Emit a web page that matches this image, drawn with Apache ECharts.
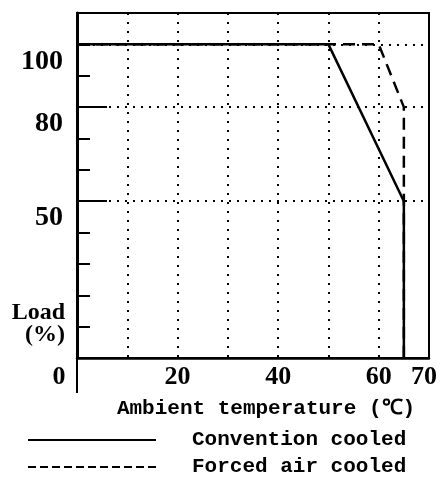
<!DOCTYPE html>
<html>
<head>
<meta charset="utf-8">
<script src="https://cdn.jsdelivr.net/npm/echarts@6/dist/echarts.min.js"></script>
<style>
html,body{margin:0;padding:0;background:#fff;}
#c{width:445px;height:485px;}
</style>
</head>
<body>
<div id="c"></div>
<script>
// ---- data ----
var seriesNames = ['Convention cooled', 'Forced air cooled'];
var conventionCooled = [[0, 100], [50, 100], [65, 50], [65, 0]];
var forcedAirCooled = [[0, 100], [60, 100], [65, 80], [65, 50], [65, 0]];
var xTickLabels = [0, 20, 40, 60, 70];
var yTickLabels = [100, 80, 50];
var yGuideLines = [100, 80, 50];
var yLongTicks = [80, 50];
var xAxisTitle = 'Ambient temperature (\u2103)';
var yAxisTitle = 'Load\n(%)';

var serifBold = {fontFamily: 'Liberation Serif', fontWeight: 'bold', color: '#000'};
var monoBold = {fontFamily: 'Liberation Mono', fontWeight: 'bold', color: '#000'};

// legend icons (drawn as paths so the dash pattern matches the key)
var solidIcon = 'path://M0,0H128V2H0Z';
var dashParts = [];
for (var i = 0; i < 11; i++) { var s = i * 12; dashParts.push('M' + s + ',0H' + (s + 8) + 'V2H' + s + 'Z'); }
var dashIcon = 'path://' + dashParts.join('');

var richLabel = {fontSize: 26, fontFamily: 'Liberation Serif', fontWeight: 'bold', color: '#000'};

var chart = echarts.init(document.getElementById('c'), null, {renderer: 'canvas'});
chart.setOption({
  animation: false,
  backgroundColor: '#fff',
  grid: {left: 77, right: 16, top: 13, bottom: 127, show: true, borderColor: '#000', borderWidth: 2},
  graphic: [{
    type: 'text', x: 65, y: 302,
    style: {text: yAxisTitle, fontSize: 24, fontFamily: 'Liberation Serif', fontWeight: 'bold',
      lineHeight: 22, fill: '#000', align: 'right', verticalAlign: 'top'}
  }],
  legend: {
    orient: 'vertical', left: 28, top: 429, padding: 0,
    itemWidth: 128, itemHeight: 2, itemGap: 5,
    textStyle: Object.assign({fontSize: 21, lineHeight: 22, padding: [0, 0, 0, 31]}, monoBold),
    data: [
      {name: seriesNames[0], icon: solidIcon, itemStyle: {color: '#000'}},
      {name: seriesNames[1], icon: dashIcon, itemStyle: {color: '#000'}}
    ]
  },
  xAxis: [{
    type: 'value', min: 0, max: 70, interval: 10,
    name: xAxisTitle, nameLocation: 'middle', nameGap: 40,
    nameTextStyle: Object.assign({fontSize: 21, padding: [0, 0, 0, 26]}, monoBold),
    axisLine: {show: true, lineStyle: {color: '#000', width: 2.5}},
    axisTick: {show: false},
    axisLabel: Object.assign({
      margin: 6, fontSize: 26,
      formatter: function (v) {
        if (xTickLabels.indexOf(v) < 0) return '';
        if (v === 0) return '{z|' + v + '}';
        if (v === 70) return '{e|' + v + '}';
        return String(v);
      },
      rich: {
        z: Object.assign({padding: [0, 36, 0, 0]}, richLabel),
        e: Object.assign({padding: [0, 10, 0, 0]}, richLabel)
      }
    }, serifBold),
    splitLine: {show: true, lineStyle: {color: '#000', width: 2, type: [2, 7]}}
  }, {
    type: 'value', min: 0, max: 70, interval: 10, position: 'bottom',
    axisLine: {show: false},
    axisTick: {show: true, customValues: [0], length: 35, lineStyle: {color: '#000', width: 2}},
    axisLabel: {show: false},
    splitLine: {show: false}
  }],
  yAxis: [{
    type: 'value', min: 0, max: 110, interval: 10,
    axisLine: {show: true, lineStyle: {color: '#000', width: 3}},
    axisTick: {show: true, inside: true, length: 13, lineStyle: {color: '#000', width: 2}},
    axisLabel: Object.assign({
      margin: 14, fontSize: 28, verticalAlign: 'top', padding: [3, 0, 0, 0],
      formatter: function (v) { return yTickLabels.indexOf(v) >= 0 ? String(v) : ''; }
    }, serifBold),
    splitLine: {show: false}
  }, {
    type: 'value', min: 0, max: 110, interval: 10, position: 'left',
    axisLine: {show: false},
    axisTick: {show: true, inside: true, length: 30, customValues: yLongTicks, lineStyle: {color: '#000', width: 2}},
    axisLabel: {show: false},
    splitLine: {show: false}
  }],
  series: [{
    name: seriesNames[0], type: 'line', data: conventionCooled, symbol: 'none',
    xAxisIndex: 0, yAxisIndex: 0,
    lineStyle: {color: '#000', width: 2.5, type: 'solid'}, itemStyle: {color: '#000'}, z: 4,
    markLine: {
      silent: true, symbol: ['none', 'none'], label: {show: false},
      lineStyle: {color: '#000', width: 2, type: [2, 6]},
      data: yGuideLines.map(function (v) { return {yAxis: v}; })
    }
  }, {
    name: seriesNames[1], type: 'line', data: forcedAirCooled, symbol: 'none',
    xAxisIndex: 0, yAxisIndex: 0,
    lineStyle: {color: '#000', width: 2.5, type: [12, 7]}, itemStyle: {color: '#000'}, z: 3
  }]
});
</script>
</body>
</html>
